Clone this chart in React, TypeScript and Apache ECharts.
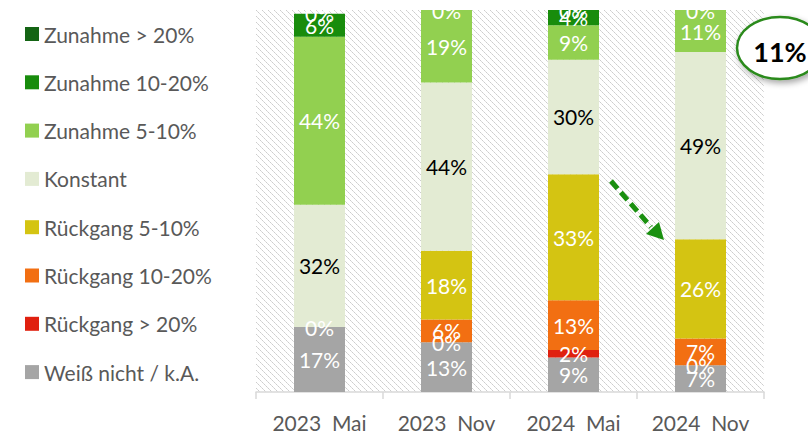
import React, { useEffect, useRef } from "react";
import * as echarts from "echarts";

const categories = ["2023  Mai", "2023  Nov", "2024  Mai", "2024  Nov"];

const weissNicht = [17, 13, 9, 7];
const rueckgang20 = [0, 0, 2, 0];
const rueckgang1020 = [null, 6, 13, 7];
const rueckgang510 = [null, 18, 33, 26];
const konstant = [32, 44, 30, 49];
const zunahme510 = [44, 19, 9, 11];
const zunahme1020 = [6, 0, 4, 0];
const zunahme20 = [0, null, 0, null];

const seriesNames = [
  "Weiß nicht / k.A.",
  "Rückgang > 20%",
  "Rückgang 10-20%",
  "Rückgang 5-10%",
  "Konstant",
  "Zunahme 5-10%",
  "Zunahme 10-20%",
  "Zunahme > 20%",
];
const seriesData = [
  weissNicht,
  rueckgang20,
  rueckgang1020,
  rueckgang510,
  konstant,
  zunahme510,
  zunahme1020,
  zunahme20,
];
const seriesColors = [
  "#a5a5a5",
  "#e0200f",
  "#f26f12",
  "#d4c412",
  "#e3ebd3",
  "#92d050",
  "#188c0c",
  "#146414",
];
const labelColors = ["#fff", "#fff", "#fff", "#fff", "#000", "#fff", "#fff", "#fff"];

const calloutText = "11%";
const FONT = "Lato, 'Open Sans', sans-serif";

function makeHatch() {
  const n = 6;
  const c = document.createElement("canvas");
  c.width = n;
  c.height = n;
  const ctx = c.getContext("2d");
  if (ctx) {
    ctx.fillStyle = "#ffffff";
    ctx.fillRect(0, 0, n, n);
    for (let i = 0; i < n; i++) {
      ctx.fillStyle = i % 2 === 0 ? "#cdcdcd" : "#dcdcdc";
      ctx.fillRect(i, i, 1, 1);
    }
  }
  return c;
}

export default function App() {
  const ref = useRef<HTMLDivElement>(null);
  useEffect(() => {
    if (!ref.current) return;
    const chart = echarts.init(ref.current, undefined, { renderer: "svg" });
    const hatch = makeHatch();
    chart.setOption({
      animation: false,
      backgroundColor: "#ffffff",
      grid: {
        left: 256,
        right: 44,
        top: 10,
        bottom: 43,
        show: true,
        borderWidth: 0,
        backgroundColor: { image: hatch, repeat: "repeat" } as any,
      },
      legend: {
        orient: "vertical",
        left: 20,
        top: 18,
        itemWidth: 14,
        itemHeight: 14,
        itemGap: 26.3,
        itemStyle: { borderWidth: 0 },
        icon: "rect",
        data: seriesNames.slice().reverse(),
        textStyle: {
          fontFamily: FONT,
          fontSize: 21,
          color: "#595959",
          lineHeight: 22,
        },
      },
      xAxis: {
        type: "category",
        data: categories,
        axisLine: { lineStyle: { color: "#d9d9d9", width: 1.5 } },
        axisTick: { show: true, length: 7, lineStyle: { color: "#d9d9d9", width: 1.5 } },
        axisLabel: {
          fontFamily: FONT,
          fontSize: 21,
          color: "#595959",
          margin: 20,
        },
      },
      yAxis: {
        type: "value",
        min: 0,
        max: 100,
        show: false,
        splitLine: { show: false },
      },
      series: seriesNames.map((name, i) => ({
        name,
        type: "bar",
        stack: "total",
        barWidth: 51,
        data: seriesData[i],
        itemStyle: { color: seriesColors[i] },
        label: {
          show: true,
          position: "inside",
          fontFamily: FONT,
          fontSize: 21,
          color: labelColors[i],
          formatter: (p: any) =>
            p.value === null || p.value === undefined || p.value === "-" ? "" : p.value + "%",
        },
      })),
      graphic: [
        {
          type: "rect",
          z: 100,
          shape: { x: 240, y: 0, width: 540, height: 10 },
          style: { fill: "#ffffff" },
        },
        {
          type: "line",
          z: 100,
          shape: { x1: 611, y1: 181, x2: 651, y2: 227 },
          style: { stroke: "#1a9010", lineWidth: 5, lineDash: [10, 5] },
        },
        {
          type: "polygon",
          z: 100,
          shape: { points: [[646, 234], [659, 222], [664, 240]] },
          style: { fill: "#1a9010" },
        },
        {
          type: "ellipse",
          z: 100,
          shape: { cx: 780, cy: 48, rx: 43, ry: 31 },
          style: {
            fill: "#ffffff",
            stroke: "#2a8a1a",
            lineWidth: 2.5,
            shadowBlur: 6,
            shadowOffsetX: 2,
            shadowOffsetY: 3,
            shadowColor: "rgba(0,0,0,0.35)",
          },
        },
        {
          type: "text",
          z: 101,
          x: 780,
          y: 51,
          style: {
            text: calloutText,
            fontFamily: FONT,
            fontSize: 27,
            fontWeight: "bold",
            fill: "#000000",
            align: "center",
            verticalAlign: "middle",
          },
        },
      ],
    });
    return () => chart.dispose();
  }, []);
  return (
    <div
      ref={ref}
      style={{ width: 808, height: 435, position: "fixed", left: 0, top: 0 }}
    />
  );
}
